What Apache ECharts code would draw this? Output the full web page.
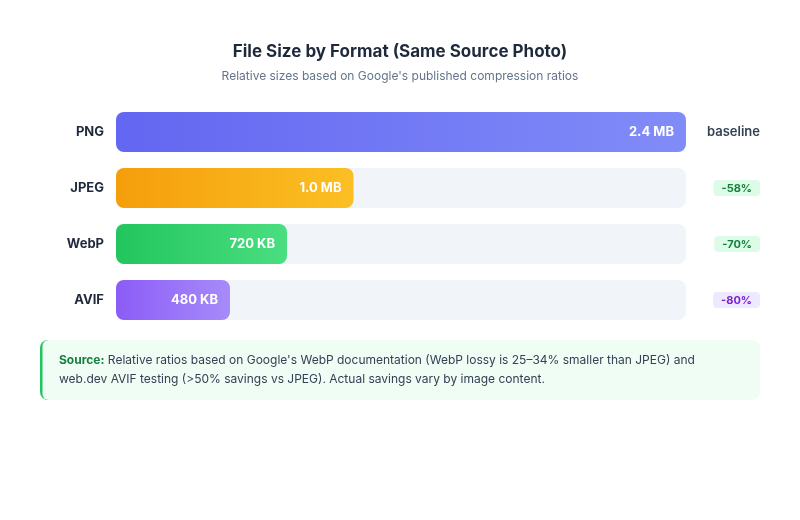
<!DOCTYPE html>
<html>
<head>
<meta charset="utf-8">
<script src="https://cdn.jsdelivr.net/npm/echarts@6/dist/echarts.min.js"></script>
<style>
  html, body { margin: 0; padding: 0; background: #fff; }
  #box { width: 800px; height: 520px; }
</style>
</head>
<body>
<div id="box"></div>
<script>
// data
var formats = ['PNG', 'JPEG', 'WebP', 'AVIF'];
var sizesKB = [2400, 1000, 720, 480];
var sizeLabels = ['2.4 MB', '1.0 MB', '720 KB', '480 KB'];
var savings = ['baseline', '-58%', '-70%', '-80%'];
var maxKB = 2400;

// colours per bar [start, end]
var gradients = [
    ['#6366f1', '#818cf8'],
    ['#f59e0b', '#fbbf24'],
    ['#22c55e', '#4ade80'],
    ['#8b5cf6', '#a78bfa']
];
var badgeStyle = ['base', 'green', 'green', 'purple'];

var font = 'Inter, "Noto Sans", sans-serif';

var barData = sizesKB.map(function (v, i) {
    return {
        value: v,
        itemStyle: {
            color: new echarts.graphic.LinearGradient(0, 0, 1, 0, [
                { offset: 0, color: gradients[i][0] },
                { offset: 1, color: gradients[i][1] }
            ])
        }
    };
});

var option = {
    backgroundColor: '#ffffff',
    animation: false,
    textStyle: { fontFamily: font },
    title: {
        text: 'File Size by Format (Same Source Photo)',
        subtext: "Relative sizes based on Google's published compression ratios",
        left: 'center',
        top: 38,
        itemGap: 10,
        textStyle: { fontFamily: font, fontSize: 17, fontWeight: 'bold', color: '#1e293b' },
        subtextStyle: { fontFamily: font, fontSize: 12, color: '#64748b' }
    },
    grid: { left: 116, right: 114, top: 104, height: 224 },
    xAxis: {
        type: 'value',
        min: 0,
        max: maxKB,
        show: false
    },
    yAxis: [
        {
            type: 'category',
            data: formats,
            inverse: true,
            axisLine: { show: false },
            axisTick: { show: false },
            axisLabel: {
                margin: 12,
                fontFamily: font,
                fontSize: 13,
                fontWeight: 'bold',
                color: '#1e293b'
            }
        },
        {
            type: 'category',
            data: savings,
            inverse: true,
            position: 'right',
            axisLine: { show: false },
            axisTick: { show: false },
            axisLabel: {
                margin: 74,
                align: 'right',
                formatter: function (v, i) {
                    return '{' + badgeStyle[i] + '|' + v + '}';
                },
                rich: {
                    base: { fontFamily: font, fontSize: 13, fontWeight: 600, color: '#334155' },
                    green: {
                        fontFamily: font, fontSize: 11, fontWeight: 'bold', color: '#15803d',
                        backgroundColor: '#dcfce7', borderRadius: 4, padding: [3, 8, 2, 8]
                    },
                    purple: {
                        fontFamily: font, fontSize: 11, fontWeight: 'bold', color: '#7e22ce',
                        backgroundColor: '#ede9fe', borderRadius: 4, padding: [3, 8, 2, 8]
                    }
                }
            }
        }
    ],
    series: [
        {
            type: 'bar',
            data: barData,
            barWidth: 40,
            itemStyle: { borderRadius: 8 },
            showBackground: true,
            backgroundStyle: { color: '#f1f5f9', borderRadius: 8 },
            label: {
                show: true,
                position: 'insideRight',
                distance: 12,
                formatter: function (p) { return sizeLabels[p.dataIndex]; },
                fontFamily: font,
                fontSize: 13,
                fontWeight: 'bold',
                color: '#ffffff'
            }
        }
    ],
    graphic: [
        {
            type: 'rect',
            shape: { x: 40, y: 340, width: 24, height: 60, r: 8 },
            style: { fill: '#22c55e' },
            silent: true
        },
        {
            type: 'rect',
            shape: { x: 42.5, y: 340, width: 717.5, height: 60, r: [6, 8, 8, 6] },
            style: { fill: '#f0fdf4' },
            silent: true
        },
        {
            type: 'text',
            left: 59,
            top: 351,
            silent: true,
            style: {
                text: "{b|Source:} Relative ratios based on Google's WebP documentation (WebP lossy is 25\u201334% smaller than JPEG) and\nweb.dev AVIF testing (>50% savings vs JPEG). Actual savings vary by image content.",
                fontFamily: font,
                fontSize: 12,
                lineHeight: 19,
                fill: '#334155',
                rich: {
                    b: { fontFamily: font, fontSize: 12, fontWeight: 'bold', fill: '#15803d', lineHeight: 19 }
                }
            }
        }
    ]
};

var chart = echarts.init(document.getElementById('box'));
chart.setOption(option);
</script>
</body>
</html>
